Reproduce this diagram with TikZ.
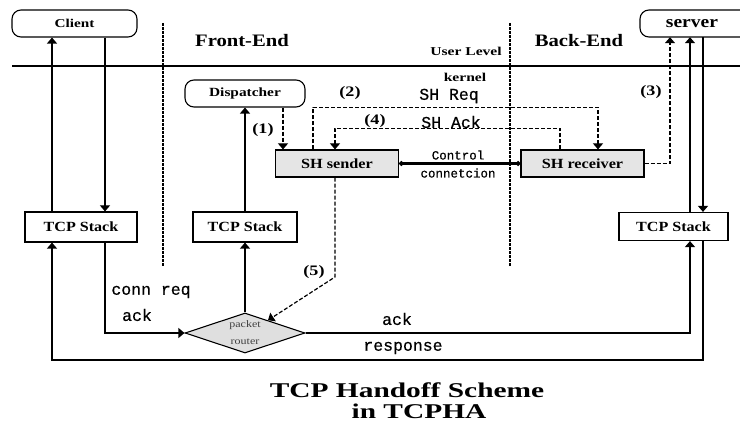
\documentclass[tikz,border=0pt]{standalone}
\usepackage{fontspec}
\setmainfont{Liberation Serif}
\newfontfamily\monofont[FakeBold=0.6]{Liberation Mono}
\usetikzlibrary{arrows.meta,shapes.geometric,calc}

% horizontally widened text: \wtext{x-stretch}{size}{text}
\newcommand{\wtext}[3]{\scalebox{#1}[1]{\fontsize{#2}{#2}\selectfont #3}}

\tikzset{
  every node/.style={inner sep=0pt},
  ln/.style={line width=1.2pt},
  arr/.style={ln, -{Triangle[width=10pt,length=6pt]}},
  dln/.style={line width=1.2pt, dash pattern=on 4pt off 2pt},
  darr/.style={dln, -{Triangle[width=10pt,length=6pt]}},
  divider/.style={line width=1.2pt, dash pattern=on 3pt off 1pt},
  term/.style={draw, line width=1.1pt, rounded corners=9pt, minimum height=27pt},
  stack/.style={draw, line width=1.2pt, minimum height=30pt, font=\bfseries},
  shbox/.style={draw, line width=1.2pt, fill=gray!20, minimum height=27pt, font=\bfseries},
  lbl/.style={font=\bfseries},
  mono/.style={font=\monofont},
}

\begin{document}
\begin{tikzpicture}[x=1pt, y=-1pt]
\useasboundingbox (0,0) rectangle (740,425);

% user level / kernel boundary and the two domain dividers
\draw[line width=1.1pt] (12,66) -- (740,66);
\draw[divider] (163,23) -- (163,267);
\draw[divider] (510,23) -- (510,267);

\node[lbl] at (242,41) {\wtext{1.18}{17.5}{Front-End}};
\node[lbl] at (579,41) {\wtext{1.18}{17.5}{Back-End}};
\node[lbl] at (466,51) {\wtext{1.3}{12}{User Level}};
\node[lbl] at (465,77) {\wtext{1.3}{12}{kernel}};

% end points and process boxes
\node[term, lbl, minimum width=125pt] (client) at (74.5,23.5) {\wtext{1.27}{12}{Client}};
\node[minimum width=100pt, minimum height=27pt, lbl] (server) at (692,23.5) {\wtext{1.15}{17}{server}};
\draw[line width=1.1pt, rounded corners=9pt] (740,10) -- (640,10) -- (640,37) -- (740,37);
\node[term, lbl, minimum width=120pt] (disp) at (245,93.5) {\wtext{1.23}{12.5}{Dispatcher}};

\node[stack, minimum width=112pt] (tcpL) at (81,227) {\wtext{1.15}{14}{TCP Stack}};
\node[stack, minimum width=104pt] (tcpM) at (245,227) {\wtext{1.15}{14}{TCP Stack}};
\node[stack, minimum width=109pt, minimum height=28pt] (tcpR) at (673.5,226.5) {\wtext{1.15}{14}{TCP Stack}};

\node[shbox, minimum width=123pt] (shs) at (337,163.5) {\wtext{1.16}{14}{SH sender}};
\node[shbox, minimum width=123pt] (shr) at (582.5,163.5) {\wtext{1.16}{14}{SH receiver}};

\node[diamond, draw, line width=1.1pt, fill=gray!25, aspect=3,
      minimum width=120pt, minimum height=40pt] (router) at (245,333) {};
\node[text=black!75] at (245,325) {\wtext{1.2}{10}{packet}};
\node[text=black!75] at (245,342) {\wtext{1.2}{10}{router}};

% x positions of the vertical runs
\coordinate (xa) at (52,0);
\coordinate (xb) at (105,0);
\coordinate (xd) at (283,0);
\coordinate (xe) at (313,0);
\coordinate (xf) at (335,0);
\coordinate (xg) at (560,0);
\coordinate (xh) at (598,0);
\coordinate (xi) at (670,0);
\coordinate (xj) at (690,0);
\coordinate (xk) at (703,0);
\coordinate (yresp) at (0,360);

% client side
\draw[arr] (tcpL.north -| xa) -- (client.south -| xa);
\draw[arr] (client.south -| xb) -- (tcpL.north -| xb);
\draw[arr] (tcpL.south -| xb) |- (router.west);

% front-end stack and dispatcher
\draw[arr] (router.north) -- (tcpM.south);
\draw[arr] (tcpM.north) -- (disp.south);

% server side
\draw[arr] (router.east) -| (tcpR.south -| xj);
\draw[arr] (tcpR.north -| xj) -- (server.south -| xj);
\draw[arr] (server.south -| xk) -- (tcpR.north -| xk);
\draw[arr] (tcpR.south -| xk) |- (yresp -| xa) -- (tcpL.south -| xa);

% handoff messages
\draw[darr] (disp.south -| xd) -- (shs.north -| xd);
\draw[darr] (shs.north -| xe) -- ++(0,-42) -| (shr.north -| xh);
\draw[darr] (shr.north -| xg) -- ++(0,-21) -| (shs.north -| xf);
\draw[darr] (shr.east) -| (server.south -| xi);
\draw[darr] (shs.south -| xf) -- (335,277) -- ($(router.north)!0.38!(router.east)$);

% control connection
\draw[line width=2.8pt, {Circle[length=4.5pt]}-{Circle[length=4.5pt]}] (shs.east) -- (shr.west);

% step labels
\node[lbl] at (263,130) {\wtext{1.25}{14.5}{(1)}};
\node[lbl] at (350,93) {\wtext{1.25}{14.5}{(2)}};
\node[lbl] at (651,92) {\wtext{1.25}{14.5}{(3)}};
\node[lbl] at (375,121) {\wtext{1.25}{14.5}{(4)}};
\node[lbl] at (314,272) {\wtext{1.25}{14.5}{(5)}};

% message labels
\node[mono] at (449,96) {\fontsize{16.5}{16.5}\selectfont SH Req};
\node[mono] at (451,122) {\fontsize{16.5}{16.5}\selectfont SH Ack};
\node[mono] at (458,155) {\fontsize{12.5}{12.5}\selectfont Control};
\node[mono] at (458,173) {\fontsize{12.5}{12.5}\selectfont connetcion};
\node[mono] at (151,292) {\fontsize{16.5}{16.5}\selectfont conn req};
\node[mono] at (137,315) {\fontsize{16.5}{16.5}\selectfont ack};
\node[mono] at (397,319) {\fontsize{16.5}{16.5}\selectfont ack};
\node[mono] at (403,348) {\fontsize{16.5}{16.5}\selectfont response};

% caption
\node[lbl, anchor=base] at (407,397) {\wtext{1.4}{21}{TCP Handoff Scheme}};
\node[lbl, anchor=base] at (419,418) {\wtext{1.4}{21}{in TCPHA}};
\end{tikzpicture}
\end{document}
